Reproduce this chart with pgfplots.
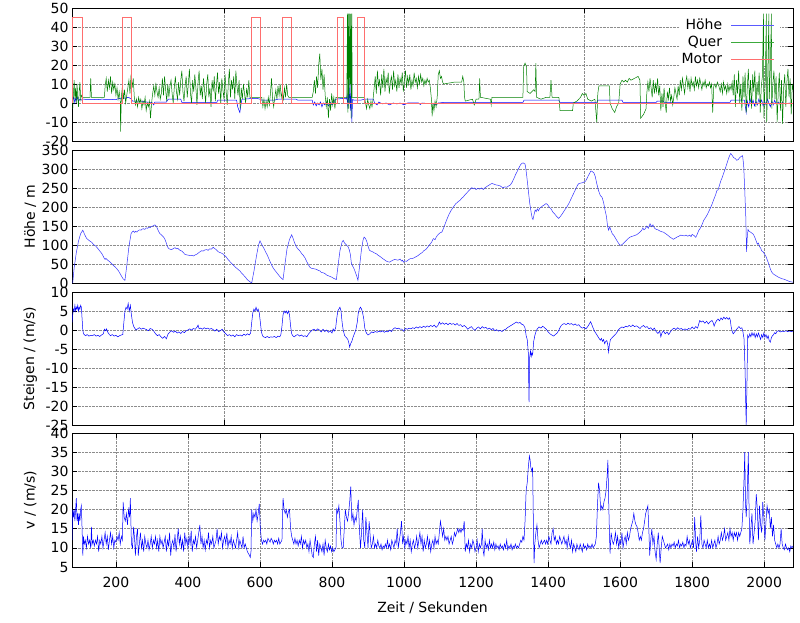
\documentclass[border=0pt]{standalone}
\usepackage{fontspec}
\setmainfont{DejaVu Sans}
\usepackage{pgfplots}
\pgfplotsset{compat=1.18}
\definecolor{gpgreen}{RGB}{0,128,0}
\definecolor{gpblue}{RGB}{0,0,255}
\definecolor{gpred}{RGB}{255,110,110}
\definecolor{lgblue}{RGB}{90,90,255}
\definecolor{lggreen}{RGB}{60,170,60}
\pgfplotsset{
 gp/.style={
  scale only axis, width=721pt, height=133pt,
  xmin=78, xmax=2080,
  font=\fontsize{14}{16}\selectfont,
  /pgf/number format/assume math mode=true,
  tick align=inside, major tick length=5pt,
  grid=major, major grid style={densely dotted, gray!90, line width=0.5pt},
  axis line style={black, line width=0.6pt},
  every tick/.style={black, line width=0.6pt},
  ylabel style={at={(axis description cs:-0.058,0.5)}, anchor=center},
  scaled ticks=false,
  clip=true,
  xtick={500,1000,1500,2000}, xticklabels={},
 }
}
\begin{document}
\begin{tikzpicture}
\useasboundingbox (0pt,0pt) rectangle (800pt,-622pt);
% ---------------- Panel 1 ----------------
\begin{axis}[gp, at={(72pt,-8pt)}, anchor=north west,
  ymin=-20, ymax=50, ytick={-20,-10,0,10,20,30,40,50},
  legend style={draw=none, fill=none, at={(axis description cs:1,1)}, anchor=north east,
    xshift=-15pt, yshift=-8pt, font=\fontsize{14}{16}\selectfont, row sep=2pt,
    nodes={inner sep=1pt, text height=10pt, text depth=3pt}},
  legend cell align=right, legend plot pos=right]
\fill[white] (axis cs:1767,19.5) rectangle (axis cs:2045,49.6);
\addplot[gpblue, line width=0.5pt,
  legend image code/.code={\path (0pt,0pt); \draw[draw=lgblue, line width=0.8pt] (8pt,0pt) -- (51pt,0pt);}] coordinates {
(80,1) (82,3) (84,2) (86,0) (88,2.5) (90,1.5) (93,3) (96,1) (100,2) (104,1.5) (107,2) (150,1.8) (160,2) (200,1.8) (205,2.2) (215,2.5) (218,3) (225,2.5) (235,3) (243,2) (246,1) (270,1) (285,0.5) (300,0.3) (305,-1) (308,0.5) (340,0.5) (345,2) (380,2) (383,0.3) (480,0.3) (483,1.5) (535,1.5) (538,-2) (541,-3.5) (544,-5) (547,-1) (550,2) (590,2.5) (600,2) (605,1.5) (640,1.5) (650,2) (700,2) (705,1.5) (745,1.5) (748,-1) (752,0.5) (756,-1.5) (760,0) (764,-1) (768,0.5) (772,-2) (776,0) (780,-1) (785,0.5) (790,-1.5) (795,0.3) (800,-1) (805,0.5) (810,2) (835,2.5) (840,2) (842,4) (844,-3) (846,6) (848,0) (850,13) (851,-4) (853,5) (855,-10) (857,2) (860,1.5) (880,1.5) (890,2) (915,2) (918,0) (925,-1) (930,0.5) (940,-0.5) (950,0) (960,-1) (970,0) (980,-0.5) (989,0) (1000,-1) (1010,0) (1040,0) (1045,-0.8) (1050,0) (1080,-0.5) (1090,-1) (1095,0) (1110,0.3) (1330,0.3) (1333,1.5) (1430,1.5) (1433,0.3) (1535,0.3) (1538,1.5) (1605,1.5) (1608,0.3) (1700,0.3) (1703,1) (1720,1) (1723,0.3) (1905,0.3) (1908,1.5) (1945,1.5) (1950,-5) (1953,1) (1957,-2) (1961,2) (1965,-1) (1969,1.5) (1973,-1.5) (1977,1) (1981,-1) (1985,2) (1989,0) (1993,1.5) (1997,-1.5) (2001,1) (2005,-1) (2009,2) (2013,0) (2017,-2) (2021,1) (2025,-1) (2029,1.5) (2033,-0.5) (2040,0.5) (2045,-1) (2050,0.3) (2060,-0.5) (2070,0) (2080,-0.3)
};
\addlegendentry{Höhe}
\addplot[gpgreen, line width=0.5pt,
  legend image code/.code={\path (0pt,0pt); \draw[draw=lggreen, line width=0.8pt] (8pt,0pt) -- (51pt,0pt);}] coordinates {
(80,-3) (82,5) (84,12) (86,2) (88,8) (90,0) (92,10) (94,3) (96,-2) (98,6) (100,11) (102,2) (104,4) (107,3)
(128,3) (130,13) (132,3) (168,3)
(170,9) (173,13) (176,6) (179,12) (182,8) (185,14) (188,5) (191,11) (194,7) (197,10) (200,4) (203,8) (206,2) (209,6) (212,1) (213,-15) (215,3) (218,9) (221,2) (224,7) (227,0) (230,4) (233,8) (236,12) (239,5) (242,15) (245,8) (248,13) (251,3) (254,-1) (257,2) (260,-2) (263,3) (266,0) (269,2) (272,-3) (275,1) (278,-1) (281,3) (284,-4) (287,0) (290,-2) (293,1) (296,-8) (299,0) (302,5) (305,9) (308,4) (311,10) (314,6) (317,3) (320,8) (323,2) (326,5) (329,13) (332,4) (335,14) (338,7) (341,1) (344,10) (347,3) (350,9) (353,12) (356,5) (359,0) (362,8) (365,14) (368,6) (371,2) (374,11) (377,4) (380,12) (383,17) (386,6) (389,1) (392,9) (395,14) (398,3) (401,10) (404,18) (407,5) (410,0) (413,12) (416,6) (419,15) (422,8) (425,-1) (428,11) (431,17) (434,4) (437,9) (440,2) (443,13) (446,7) (449,0) (452,10) (455,15) (458,3) (461,8) (464,-2) (467,12) (470,6) (473,14) (476,1) (479,9) (482,16) (485,5) (488,11) (491,0) (494,13) (497,7) (500,2) (503,15) (506,6) (509,-1) (512,10) (515,18) (518,3) (521,12) (524,7) (527,14) (530,2) (533,17) (536,9) (539,4) (542,12) (545,-3) (548,8) (551,2) (554,10) (557,5) (560,0) (563,8) (566,3) (569,12) (572,3)
(605,3) (608,-2) (611,2) (614,-3) (617,1) (620,-2) (623,3) (626,-1) (629,5) (632,13) (635,2) (638,-2) (641,3) (644,7) (647,2) (650,9) (653,4) (656,10) (659,3) (662,6) (665,2) (668,8) (671,3) (674,10) (677,4) (680,3)
(745,3) (748,6) (751,12) (754,5) (757,14) (760,8) (763,20) (766,26) (769,12) (772,18) (775,7) (778,15) (781,4) (784,-2) (787,3) (790,-8) (793,2) (796,-4) (799,5) (802,-1) (805,3) (808,-3) (811,3)
(841,3) (843,47) (844,-5) (846,47) (847,-3) (849,47) (850,10) (852,47) (853,-8) (855,47) (856,3)
(890,3) (893,0) (896,-3) (899,2) (902,-1) (905,-3) (908,1) (911,-2) (914,2) (917,8) (920,14) (923,5) (926,17) (929,9) (932,12) (935,4) (938,15) (941,8) (944,18) (947,6) (950,13) (953,10) (956,16) (959,5) (962,11) (965,14) (968,7) (971,17) (974,9) (977,12) (980,6) (983,15) (986,8) (989,13)
(992,10) (995,16) (998,6) (1001,12) (1004,17) (1007,8) (1010,14) (1013,10) (1016,15) (1019,7) (1022,12) (1025,9) (1028,16) (1031,11) (1034,13) (1037,8) (1040,14) (1043,10) (1046,15) (1049,11) (1052,13) (1055,9) (1058,12) (1061,10) (1064,13) (1067,11) (1070,12) (1073,8) (1076,2) (1078,-7) (1080,0) (1083,-4) (1086,1) (1089,-2) (1092,3) (1095,15) (1098,17) (1101,13) (1104,14) (1107,11) (1110,10) (1140,11) (1160,11) (1163,14) (1166,11) (1168,3) (1170,1) (1190,2) (1195,-1) (1200,2) (1208,2) (1210,13) (1212,3) (1240,2) (1242,-1) (1244,3) (1330,3) (1332,19) (1336,21) (1340,19) (1342,6) (1350,5) (1360,7) (1364,6) (1366,21) (1368,3) (1380,2) (1395,3) (1405,3) (1408,12) (1411,3) (1430,3) (1433,-4) (1468,-4) (1470,0) (1480,1) (1490,3) (1495,5) (1500,4) (1505,5) (1510,2) (1520,1) (1530,2) (1535,-10) (1538,5) (1541,9) (1570,9) (1572,0) (1578,-3) (1585,-5) (1590,-2) (1596,0) (1600,10) (1605,12) (1610,11) (1615,12) (1620,11) (1625,13) (1630,12) (1640,13) (1650,14) (1655,12) (1657,-8) (1665,-6) (1672,-3) (1674,5) (1677,11) (1680,6) (1683,13) (1686,8) (1689,3) (1692,12) (1695,5) (1698,10) (1701,6) (1704,13) (1707,4) (1710,9) (1713,-4) (1716,5) (1719,-2) (1722,8) (1725,0) (1728,-5) (1731,6) (1734,2) (1737,8) (1740,1) (1743,4) (1746,-1) (1749,3) (1752,8) (1755,5) (1758,2) (1761,9) (1764,4) (1767,12) (1770,7) (1773,13) (1776,9) (1779,5) (1782,11) (1785,14) (1788,8) (1791,12) (1794,6) (1797,13) (1800,9) (1803,11) (1806,7) (1809,14) (1812,9) (1815,12) (1818,8) (1821,13) (1824,10) (1827,7) (1830,11) (1833,9) (1836,12) (1839,8) (1842,10) (1845,9) (1848,11) (1851,8) (1854,10) (1857,-5) (1860,9) (1863,10) (1866,8) (1870,11) (1874,9) (1878,6) (1881,10) (1884,5) (1887,11) (1890,7) (1893,9) (1896,5) (1899,10) (1902,6) (1905,9) (1908,7) (1911,11) (1914,4) (1917,15) (1920,-2) (1923,12) (1926,5) (1929,17) (1932,0) (1935,10) (1938,-4) (1941,14) (1944,3) (1947,16) (1950,-5) (1953,8) (1956,18) (1959,1) (1962,12) (1965,-3) (1968,15) (1971,6) (1974,17) (1977,-2) (1980,11) (1983,4) (1986,16) (1989,-5) (1992,9) (1995,14) (1998,47) (1999,-8) (2003,12) (2006,47) (2007,-10) (2010,15) (2013,47) (2014,2) (2017,18) (2020,47) (2021,-3) (2024,10) (2027,17) (2030,2) (2033,14) (2036,-10) (2039,6) (2042,16) (2045,-4) (2048,12) (2051,-11) (2054,8) (2057,15) (2060,-2) (2063,11) (2066,18) (2069,3) (2072,13) (2075,-6) (2078,10) (2080,7)
};
\addlegendentry{Quer}
\addplot[gpred, line width=0.6pt,
  legend image code/.code={\path (0pt,0pt); \draw[draw=gpred, line width=0.8pt] (8pt,0pt) -- (51pt,0pt);}] coordinates {
(80,0) (80,45) (107,45) (107,0) (217,0) (217,45) (242,45) (242,0) (576,0) (576,45) (601,45) (601,0) (661,0) (661,45) (686,45) (686,0) (814,0) (814,45) (831,45) (831,0) (870,0) (870,45) (889,45) (889,0) (2080,0)
};
\addlegendentry{Motor}
\end{axis}
% ---------------- Panel 2 ----------------
\begin{axis}[gp, at={(72pt,-150pt)}, anchor=north west,
  ymin=0, ymax=350, ytick={0,50,100,150,200,250,300,350}, ylabel={Höhe / m}]
\addplot[gpblue!80, line width=0.5pt] coordinates {
(80,0) (84,40) (90,80) (96,110) (102,130) (108,139) (112,130) (116,122) (119,117) (124,113) (128,110) (133,107) (138,101) (143,98) (147,94) (152,88) (157,82) (161,77) (165,70) (168,64) (170,62) (172,65) (176,61) (180,58) (183,56) (188,51) (193,46) (198,42) (202,38) (207,32) (212,24) (216,17) (220,11) (225,7) (230,45) (236,95) (242,130) (245,134) (248,137) (252,133) (255,136) (258,134) (262,138) (266,140) (270,139) (273,142) (276,143) (280,141) (284,145) (288,144) (292,147) (295,146) (299,149) (303,150) (306,152) (308,153) (311,150) (313,148) (316,141) (319,135) (322,130) (326,127) (330,123) (333,120) (336,115) (340,105) (343,96) (346,91) (350,89) (355,88) (360,91) (364,93) (368,90) (372,91) (375,88) (378,86) (383,84) (388,79) (392,75) (397,74) (402,73) (407,72) (411,73) (415,71) (420,74) (425,76) (429,79) (433,82) (438,85) (442,84) (447,87) (452,88) (456,86) (460,90) (465,89) (470,94) (474,91) (478,88) (482,84) (486,81) (490,80) (494,78) (498,76) (502,72) (505,70) (508,66) (512,61) (516,57) (520,53) (526,47) (530,43) (535,39) (540,35) (544,32) (548,27) (552,23) (556,19) (560,15) (563,11) (567,7) (571,4) (574,2) (577,0) (583,30) (590,70) (596,100) (600,111) (604,103) (608,96) (612,89) (616,81) (620,74) (625,63) (630,52) (635,42) (640,35) (645,29) (650,23) (655,17) (660,12) (664,9) (668,40) (675,90) (682,115) (688,127) (692,117) (696,106) (701,95) (706,89) (711,84) (716,77) (720,73) (725,66) (730,56) (734,49) (738,42) (742,39) (747,38) (752,37) (757,36) (762,33) (766,32) (770,28) (775,27) (780,25) (785,21) (790,19) (795,17) (800,15) (805,12) (810,10) (812,9) (816,40) (822,85) (828,108) (831,112) (835,105) (840,100) (845,95) (848,87) (851,75) (854,50) (857,45) (860,40) (863,33) (866,25) (869,17) (872,7) (876,40) (882,90) (886,112) (889,121) (893,117) (897,108) (901,94) (904,86) (908,84) (913,82) (918,79) (923,77) (928,73) (933,70) (937,67) (941,64) (946,61) (950,58) (955,56) (960,55) (965,58) (969,60) (974,62) (979,61) (983,60) (987,62) (989,63) (993,58) (996,60) (998,55) (1002,58) (1007,57) (1012,61) (1017,64) (1022,64) (1027,66) (1031,68) (1035,70) (1040,73) (1045,77) (1050,80) (1055,85) (1060,88) (1063,91) (1067,96) (1072,102) (1077,108) (1080,115) (1082,117) (1086,114) (1090,122) (1095,128) (1100,132) (1105,134) (1110,145) (1115,158) (1120,170) (1125,181) (1130,190) (1137,200) (1143,208) (1150,214) (1156,218) (1160,223) (1165,227) (1170,233) (1175,238) (1180,243) (1185,248) (1188,251) (1192,248) (1196,250) (1200,246) (1205,249) (1210,247) (1215,250) (1220,246) (1225,251) (1230,254) (1235,257) (1240,260) (1244,262) (1250,260) (1256,258) (1262,257) (1268,255) (1272,252) (1276,251) (1280,253) (1285,252) (1290,255) (1295,258) (1300,265) (1305,275) (1310,286) (1315,295) (1320,305) (1324,312) (1327,315) (1331,316) (1336,313) (1339,295) (1342,270) (1345,244) (1349,210) (1353,185) (1356,170) (1358,167) (1361,180) (1364,192) (1367,188) (1370,195) (1373,190) (1377,197) (1381,200) (1385,203) (1390,206) (1394,209) (1398,207) (1403,200) (1408,195) (1413,187) (1418,182) (1423,176) (1429,170) (1434,175) (1440,183) (1446,192) (1452,200) (1458,210) (1464,222) (1470,234) (1476,246) (1482,258) (1486,262) (1491,263) (1496,264) (1500,266) (1504,268) (1508,275) (1512,283) (1516,290) (1519,295) (1523,293) (1527,290) (1531,280) (1535,262) (1540,243) (1545,230) (1550,225) (1554,212) (1558,192) (1562,175) (1565,150) (1568,139) (1571,148) (1574,140) (1578,130) (1582,126) (1587,118) (1592,110) (1596,104) (1600,99) (1605,101) (1610,105) (1616,111) (1622,117) (1628,121) (1634,123) (1640,125) (1646,127) (1650,130) (1655,134) (1660,139) (1663,145) (1666,140) (1670,143) (1674,150) (1678,144) (1683,156) (1687,148) (1691,153) (1695,145) (1700,141) (1705,140) (1710,137) (1715,135) (1720,134) (1726,130) (1732,126) (1738,121) (1743,118) (1748,115) (1753,118) (1758,121) (1763,123) (1768,126) (1773,125) (1778,124) (1783,126) (1788,123) (1793,126) (1797,122) (1800,128) (1805,125) (1810,120) (1813,126) (1818,138) (1823,145) (1828,155) (1832,165) (1837,172) (1842,180) (1846,188) (1850,196) (1855,207) (1860,220) (1865,232) (1869,244) (1872,245) (1876,258) (1880,270) (1884,279) (1887,288) (1891,298) (1895,310) (1899,322) (1903,333) (1907,341) (1911,336) (1915,330) (1919,328) (1924,323) (1928,325) (1932,330) (1936,333) (1940,335) (1943,310) (1946,244) (1949,170) (1951,82) (1953,120) (1955,141) (1958,136) (1962,134) (1966,131) (1970,128) (1974,120) (1978,110) (1981,102) (1984,105) (1987,96) (1990,92) (1993,85) (1997,82) (2001,76) (2005,70) (2008,62) (2012,52) (2016,40) (2020,30) (2025,24) (2030,21) (2035,18) (2040,15) (2045,13) (2050,11) (2055,10) (2060,8) (2065,6) (2070,4) (2075,3) (2080,2)
};
\end{axis}
% ---------------- Panel 3 ----------------
\begin{axis}[gp, at={(72pt,-292pt)}, anchor=north west,
  ymin=-25, ymax=10, ytick={-25,-20,-15,-10,-5,0,5,10}, ylabel={Steigen / (m/s)}]
\addplot[gpblue, line width=0.5pt] coordinates {
(78,2) (80,4) (82,5.5) (84,5) (86,6.5) (88,5) (90,6) (92,5.5) (94,6.5) (96,5) (98,6) (100,5.5) (102,6.5) (104,6) (106,3) (108,0) (110,-1) (113,-1.3) (116,-1.5) (120,-1.2) (125,-1.6) (130,-1.4) (135,-1.5) (140,-1.2) (145,-1.6) (150,-1.4) (155,-1.7) (160,-1.3) (165,-1) (168,0.2) (171,-0.2) (174,0.3) (177,-0.5) (180,-1) (185,-1.5) (190,-1.2) (195,-1.6) (200,-1.4) (205,-1.8) (210,-1.5) (215,-1.3) (219,-1.2) (222,2) (225,5) (228,6) (231,5.5) (234,7) (237,5) (240,6.5) (243,4) (246,2) (249,1) (252,0.5) (256,0) (260,0.3) (265,0.6) (270,0.2) (275,0.5) (280,0.3) (285,0.1) (290,-0.2) (295,0.4) (300,0.2) (305,-0.3) (310,-1) (315,-1.5) (320,-1.2) (325,-1.8) (330,-2.2) (335,-1.7) (340,-2.3) (345,-1) (350,-0.5) (355,-0.2) (360,-0.6) (365,-0.3) (370,-0.8) (375,-0.5) (380,-0.9) (385,-0.4) (390,-0.7) (395,-0.2) (400,0) (405,0.3) (410,0) (415,0.4) (420,0.2) (425,0.7) (428,1.3) (431,0.3) (435,0.5) (440,0.2) (445,0.6) (450,0.3) (455,0.5) (460,0.2) (465,0.4) (470,0.1) (475,-0.3) (480,0.2) (485,-0.4) (490,-0.2) (495,0.2) (500,-0.5) (505,-1) (510,-1.5) (515,-1.2) (520,-1.6) (525,-1.3) (530,-1.8) (535,-1.2) (540,-1.5) (545,-1.3) (550,-1.6) (555,-1.1) (560,-1.4) (565,-1) (570,-1.3) (574,-0.8) (577,2) (580,4.5) (583,5.5) (586,5) (589,6) (592,5) (595,5.5) (598,4.5) (601,2) (604,-0.5) (607,-1.5) (610,-1.8) (615,-2) (620,-1.7) (625,-2) (630,-1.8) (635,-1.9) (640,-1.7) (645,-2) (650,-1.6) (655,-1.8) (658,-1.2) (661,1) (664,4) (667,5) (670,4.5) (673,5) (676,4.3) (679,5) (682,4) (685,1) (688,-1) (691,-1.5) (695,-1.8) (700,-1.4) (705,-1.2) (710,-1.6) (715,-1.3) (720,-1.7) (725,-1.5) (730,-1.8) (735,-1) (740,-0.5) (745,0) (750,0.2) (755,-0.2) (760,0.3) (765,0) (770,-0.5) (775,0.2) (780,-0.4) (785,0) (790,-0.6) (795,-0.2) (800,-0.8) (803,0.3) (806,-0.3) (810,0.5) (813,3) (816,5) (819,5.5) (822,6) (825,5) (828,2) (831,0) (835,-1.5) (840,-2) (844,-2.5) (847,-3.5) (849,-4.5) (852,-3.5) (855,-3) (858,-2) (862,-1) (866,0) (870,2) (873,4.5) (876,5.5) (879,6) (882,5.5) (885,4.5) (888,3) (891,0.5) (894,-0.5) (897,-1) (900,-1.3) (905,-1) (910,-0.5) (915,-0.7) (920,-0.4) (925,-0.6) (930,-0.3) (935,-0.5) (940,-0.2) (945,-0.6) (950,-0.3) (955,-0.5) (960,0) (965,-0.4) (970,0.3) (975,0.6) (980,0.3) (985,0.5) (989,0.2)
(994,0.2) (999,-0.3) (1004,0.4) (1009,0.2) (1014,0.5) (1019,0.3) (1024,0.6) (1029,0.4) (1034,0.8) (1039,0.5) (1044,0.9) (1049,0.6) (1054,1.0) (1059,0.7) (1064,1.1) (1069,0.8) (1074,1.2) (1079,0.9) (1084,1.3) (1089,0.7) (1094,1.2) (1098,2.1) (1102,1.5) (1107,1.9) (1112,1.5) (1117,1.8) (1122,1.4) (1127,1.8) (1132,1.5) (1137,1.7) (1142,1.3) (1147,1.7) (1152,1.2) (1157,1.4) (1162,0.9) (1167,1.2) (1172,0.8) (1177,0.2) (1182,0.6) (1187,0.9) (1192,0.3) (1197,-0.1) (1202,0.5) (1207,0.8) (1212,0.3) (1217,0.9) (1222,0.5) (1227,0.7) (1232,0.2) (1237,0.5) (1242,0.1) (1247,0.4) (1252,-0.2) (1257,0.1) (1262,-0.3) (1267,-0.1) (1272,-0.4) (1277,0) (1282,0.2) (1287,0.6) (1292,0.9) (1297,1.2) (1302,1.5) (1307,1.8) (1312,2.1) (1317,1.8) (1322,2.0) (1327,1.5) (1332,1.3) (1336,0.5) (1339,-1.5) (1342,-2.5) (1345,-6) (1347,-19) (1349,-7) (1351,-5.5) (1353,-7) (1355,-6) (1357,-6.5) (1360,-3) (1363,-1.5) (1366,-0.5) (1370,0.3) (1375,0.8) (1380,0.5) (1385,1.0) (1390,0.6) (1395,0.2) (1400,-0.5) (1405,-1) (1410,-1.3) (1415,-1.6) (1420,-1.2) (1425,-0.8) (1430,0) (1435,1) (1440,1.5) (1445,1.7) (1450,1.4) (1455,1.8) (1460,1.5) (1465,1.7) (1470,1.3) (1475,1.6) (1480,1.2) (1485,1.4) (1490,0.8) (1495,0.5) (1500,0.7) (1505,0.3) (1510,0.9) (1515,1.7) (1518,2.2) (1521,1.5) (1525,0.5) (1530,-0.5) (1535,-1.2) (1540,-2) (1545,-2.7) (1548,-2.2) (1551,-3) (1554,-2.5) (1557,-3.6) (1560,-3.0) (1563,-2.8) (1566,-4) (1568,-5.8) (1570,-4) (1573,-2.5) (1576,-2.2) (1580,-1.8) (1585,-1.3) (1590,-0.8) (1595,0) (1600,0.5) (1605,0.8) (1610,0.6) (1615,1) (1620,0.8) (1625,1.2) (1630,0.9) (1635,1.3) (1640,0.9) (1645,1.1) (1650,0.8) (1655,0.4) (1660,0.9) (1665,1.2) (1670,0.7) (1675,0.9) (1680,0.3) (1685,0.6) (1690,0) (1695,0.5) (1700,-0.4) (1705,-0.9) (1710,-0.3) (1713,-1.8) (1716,-0.8) (1720,-0.2) (1725,-1) (1730,-0.5) (1735,-1.2) (1740,-0.4) (1745,0.2) (1750,0.5) (1755,0.1) (1760,0.6) (1765,0.2) (1770,0.4) (1775,0) (1780,0.3) (1785,0) (1790,0.4) (1795,0.2) (1800,0.8) (1805,0.3) (1810,0.9) (1815,0.5) (1818,1.5) (1821,2.5) (1825,2.1) (1830,2.4) (1835,1.8) (1840,2.3) (1845,1.6) (1850,2.2) (1855,2.5) (1858,2) (1861,1) (1864,1.8) (1868,2.5) (1872,2.9) (1876,2.4) (1880,3.2) (1884,2.7) (1888,3.4) (1892,2.9) (1896,3.3) (1900,2.8) (1904,3.2) (1906,2.5) (1908,1) (1911,-0.3) (1914,-1) (1918,-0.5) (1922,0) (1926,0.5) (1930,0.9) (1934,0.4) (1938,0.6) (1941,-0.5) (1944,-2.3) (1947,-11) (1950,-25) (1952,-15) (1954,-1.4) (1957,-2) (1960,-1) (1963,-1.8) (1966,-0.7) (1969,-1.5) (1972,-0.8) (1975,-2) (1978,-1) (1981,-1.8) (1984,-0.8) (1987,-1.6) (1990,-2.5) (1993,-1.2) (1996,-2) (1999,-0.8) (2002,-1.9) (2005,-1.2) (2008,-2.2) (2011,-1.5) (2014,-2.8) (2017,-3.2) (2020,-2) (2023,-1.5) (2026,-1.2) (2029,-0.7) (2032,-1) (2035,-0.4) (2040,-0.2) (2045,-0.5) (2050,-0.3) (2055,-0.4) (2060,-0.2) (2065,-0.4) (2070,-0.3) (2075,-0.4) (2080,-0.3)
};
\end{axis}
% ---------------- Panel 4 ----------------
\begin{axis}[gp, at={(72pt,-433pt)}, anchor=north west, height=134pt,
  ymin=5, ymax=40, ytick={5,10,15,20,25,30,35,40}, ylabel={v / (m/s)},
  xtick={200,400,600,800,1000,1200,1400,1600,1800,2000},
  xticklabels={200,400,600,800,1000,1200,1400,1600,1800,2000},
  xticklabel style={yshift=-7pt},
  xlabel={Zeit / Sekunden},
  xlabel style={at={(axis description cs:0.5,0)}, anchor=center, yshift=-41pt}]
\addplot[gpblue, line width=0.5pt] coordinates {
(78,12) (80,20) (82,18) (84,20) (86,17) (88,20) (90,23) (92,17) (94,19) (96,16) (98,19) (100,17) (102,20) (104,21) (106,15) (108,8) (110,13)
(112,11) (115,12) (118,10) (121,13) (124,11) (127,12) (130,10) (132,15.5) (134,11) (137,12) (140,10.5) (143,12) (146,11) (149,13) (152,9) (155,12) (158,11) (161,13) (164,10) (167,12) (170,14) (173,11) (176,13) (179,9.5) (182,12) (185,14) (188,11) (191,13) (194,10) (197,12) (200,11.5) (203,13) (206,12) (209,14) (212,11) (215,13) (218,12)
(220,22) (223,18) (226,17) (229,19) (232,16) (235,20) (238,18) (240,23) (243,11) (246,10) (249,15.5) (252,12) (254,8) (257,13) (260,15) (262,8) (265,11) (268,14) (271,10) (274,12) (277,9) (280,13) (283,11) (286,10) (289,12) (292,9.5) (295,11) (298,13) (301,10) (304,12) (307,11) (310,13) (313,10) (316,12) (319,9) (322,13) (325,11) (328,12) (331,10) (334,11.5) (337,13) (340,9) (343,12) (346,10.5) (349,14) (352,8) (355,11) (358,12) (361,10) (364,13.5) (367,9) (370,12) (373,15) (376,11) (379,13) (382,10) (385,12) (388,9) (391,14) (394,11) (397,12.5) (400,10) (403,13) (406,11) (409,14.5) (412,9) (415,12) (418,11) (421,13) (424,10) (427,12) (430,14) (433,16) (436,11) (439,13) (442,10) (445,12) (448,9.5) (451,12) (454,11) (457,14) (460,10) (463,12) (466,11) (469,13) (472,10) (475,11) (478,12) (481,15) (484,11) (487,13) (490,12) (493,14) (496,10) (499,12) (502,13) (505,11) (508,14) (511,10) (514,12) (517,11) (520,13) (523,10) (526,12) (529,11) (532,10) (535,12) (538,14) (541,10) (544,12) (547,11) (550,10) (553,13) (556,10) (559,11) (562,10) (565,9) (568,8.5) (571,8) (573,7.5) (575,9) (577,20) (580,17) (583,19) (586,18) (589,20) (592,17) (595,19) (598,21.5) (601,15) (604,12) (607,11) (610,12) (613,11.5) (616,12) (619,11) (622,12.5) (625,12) (628,11.5) (631,12.5) (634,12) (637,11) (640,12) (643,11.5) (646,12) (649,11) (652,12.5) (655,11) (658,11.5) (661,12) (664,23) (667,20) (670,19) (673,20) (676,18) (679,19.5) (682,20) (685,15) (688,13) (691,12) (694,11) (697,12.5) (700,11) (703,12) (706,10.5) (709,12) (712,11) (715,13) (718,10) (721,12) (724,11) (727,12) (730,10) (733,11) (736,9) (739,12) (742,10) (745,8) (748,7.5) (751,11) (754,13) (757,9) (760,12) (763,8) (766,11) (769,10) (772,9) (775,11) (778,8) (781,12) (784,10) (787,9) (790,11) (793,9.5) (796,10.5) (799,9) (802,10) (805,9) (808,9.5) (811,10) (813,20) (816,19) (819,21) (822,17) (825,12) (828,10) (831,10) (834,15) (837,20) (840,18) (843,17) (846,19) (849,22) (852,26) (855,17) (858,19) (861,16) (864,18) (867,17) (870,20) (873,22.5) (876,15) (879,10) (882,14) (885,20) (888,12) (891,10) (894,18) (897,14) (900,10) (903,17) (906,13) (909,10) (912,11) (915,13) (918,10) (921,11) (924,10) (927,12) (930,10.5) (933,10) (936,11) (939,9.5) (942,10.5) (945,10) (948,11) (951,10) (954,12) (957,10) (960,11) (963,9.5) (966,12) (969,11) (972,10) (975,12) (978,11) (981,15) (984,10) (987,12) (990,14)
(993,17) (996,11) (999,13) (1002,10) (1005,12) (1008,11) (1011,13) (1014,10) (1017,12) (1020,9) (1023,11) (1026,12) (1029,10) (1032,11) (1035,13) (1038,10) (1041,12) (1044,14) (1047,11) (1050,13) (1053,9) (1056,12) (1059,10) (1062,11) (1065,13) (1068,10) (1071,12) (1074,9) (1077,11) (1080,12) (1083,10) (1086,13) (1089,11) (1092,12) (1095,11) (1098,14) (1101,17) (1104,15) (1107,13) (1110,15) (1113,12) (1116,13) (1119,12) (1122,13) (1125,11) (1128,12) (1131,13) (1134,11) (1137,12) (1140,14) (1143,13) (1146,14) (1149,15) (1152,14) (1155,15) (1158,14) (1161,15) (1164,14.5) (1167,17) (1170,9) (1173,11) (1176,10) (1179,12) (1182,9) (1185,11) (1188,10) (1191,12) (1194,11) (1197,9) (1200,10) (1203,12) (1206,9) (1209,11) (1212,10) (1215,11) (1217,15) (1220,9) (1222,8) (1225,12) (1228,10) (1231,11) (1234,9.5) (1237,12) (1240,10) (1243,11) (1246,10) (1249,11.5) (1252,9.5) (1255,11) (1258,10) (1261,10.5) (1264,9.5) (1267,11) (1270,10) (1273,10.5) (1276,9.5) (1279,11) (1282,10) (1285,12) (1288,9.5) (1291,10.5) (1294,10) (1297,11) (1300,9.5) (1303,10.5) (1306,10) (1309,11) (1312,10) (1315,10.5) (1318,10) (1321,11) (1324,12) (1327,11.5) (1330,13) (1333,12) (1336,17) (1339,25) (1342,27) (1345,31) (1348,34) (1350,33) (1352,31) (1355,30) (1357,31) (1359,17) (1361,6) (1363,11) (1366,14) (1369,16) (1372,12) (1375,10) (1378,11) (1381,12) (1384,11) (1387,11.5) (1390,12) (1393,11) (1396,12) (1399,11) (1402,13) (1405,12) (1408,11) (1411,14) (1414,15) (1417,12) (1420,13) (1423,11) (1426,12) (1429,11) (1432,13) (1435,12) (1438,11) (1441,12) (1444,13) (1447,11) (1450,12) (1453,10) (1456,13) (1459,11) (1462,10) (1465,12) (1468,9) (1471,11) (1474,10) (1477,9) (1480,11) (1483,10) (1486,9.5) (1489,11) (1492,10) (1495,9) (1498,11) (1501,10) (1504,10.5) (1507,9.5) (1510,11) (1513,10) (1516,10.5) (1519,10) (1522,11) (1525,10) (1528,10.5) (1531,11) (1534,13) (1537,21) (1540,27) (1543,25) (1546,20) (1549,21) (1552,20) (1555,22) (1558,23) (1561,25) (1564,29) (1566,33) (1568,23) (1570,15) (1572,8.5) (1575,14) (1578,12) (1581,11) (1584,12) (1587,14) (1590,11) (1593,13) (1596,10) (1599,12) (1602,11) (1605,14) (1608,10) (1611,12) (1614,13) (1617,11) (1620,14) (1623,12) (1626,13) (1629,15) (1632,16) (1635,17) (1638,19) (1641,17) (1644,16) (1647,15.5) (1650,14) (1653,12) (1656,13) (1659,12) (1662,14) (1665,15) (1668,17) (1671,19) (1674,20) (1677,21) (1680,14) (1682,8) (1685,12) (1688,15) (1691,11) (1694,13) (1697,9) (1700,7) (1703,11) (1706,14) (1709,9) (1711,6) (1714,10) (1717,13) (1720,12) (1723,11) (1726,10) (1729,10.5) (1732,11) (1735,9.5) (1738,11) (1741,10) (1744,11) (1747,10.5) (1750,11.5) (1753,10) (1756,11) (1759,10.5) (1762,12) (1765,10) (1768,11) (1771,10.5) (1774,11.5) (1777,10) (1780,11) (1783,10.5) (1786,13) (1789,11) (1792,12) (1795,10) (1798,11) (1801,12) (1804,10) (1807,18) (1810,11) (1812,9) (1815,13) (1818,10) (1821,12) (1824,18.5) (1827,11) (1830,10) (1833,12) (1836,11) (1839,10) (1842,12) (1845,10) (1848,11) (1851,10) (1854,12) (1857,10) (1860,11) (1863,12) (1866,10) (1869,11) (1872,13) (1875,11) (1878,12) (1881,14) (1884,12) (1887,13) (1890,15) (1893,12) (1896,13) (1899,14) (1902,12) (1905,15) (1908,13) (1911,14) (1914,12) (1917,14) (1920,13) (1923,14) (1926,12) (1929,14) (1932,13) (1935,14) (1938,15) (1941,20) (1944,28) (1946,35) (1948,22) (1950,18) (1952,22) (1954,28) (1956,35) (1958,20) (1960,11) (1963,15) (1966,19) (1969,11) (1972,14) (1975,17) (1978,24) (1981,20) (1984,12) (1987,21) (1990,16) (1993,14) (1996,22) (1999,18) (2002,12) (2005,17) (2008,21) (2011,19) (2014,20) (2017,15) (2020,18) (2023,13) (2026,16) (2029,12) (2032,11) (2035,10) (2038,11) (2041,10) (2044,11) (2047,15) (2050,11) (2053,10) (2056,9.5) (2059,11) (2062,10) (2065,9.5) (2068,10) (2071,9) (2074,10.5) (2077,10) (2080,10.5)
};
\end{axis}
\end{tikzpicture}
\end{document}
